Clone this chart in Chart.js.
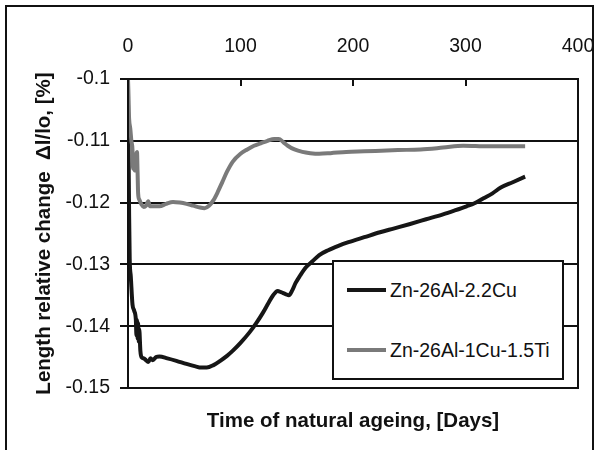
<!DOCTYPE html>
<html>
<head>
<meta charset="utf-8">
<script src="https://cdn.jsdelivr.net/npm/chart.js@4"></script>
<style>
  body { margin: 0; background: #fff; }
  #wrap { position: relative; width: 596px; height: 450px; overflow: hidden; font-family: "Liberation Sans", Arial, sans-serif; }
  #frame { position: absolute; left: 5px; top: 5px; width: 589px; height: 470px; border: 2px solid #111; box-sizing: border-box; }
  #legend { position: absolute; left: 332px; top: 260px; width: 232px; height: 120px; border: 2px solid #111; box-sizing: border-box; background: #fff; }
  .item { position: absolute; left: 13px; height: 24px; }
  .swatch { position: absolute; left: 0; top: 10px; width: 39px; height: 4px; }
  .label { position: absolute; left: 43px; top: 0; font-size: 19.5px; line-height: 24px; white-space: nowrap; color: #111; }
</style>
</head>
<body>
<div id="wrap">
  <canvas id="myChart" width="596" height="450"></canvas>
  <div id="frame"></div>
  <div id="legend"></div>
</div>
<script>
// series names
const seriesNames = ['Zn-26Al-2.2Cu', 'Zn-26Al-1Cu-1.5Ti'];
const seriesColors = ['#161616', '#7a7a7a'];

// Zn-26Al-2.2Cu
const daysCu = [0, 0.5, 1, 1.5, 2.5, 4, 5.5, 7, 7.5, 8, 8.5, 9, 9.5, 10, 11, 12, 14, 16, 18, 20, 22, 25, 28, 35, 43, 52, 60, 65, 70, 76, 82, 88, 93, 100, 108, 114, 120, 125, 129, 133, 136, 140, 143, 146, 149, 153, 158, 164, 170, 178, 187, 196, 210, 224, 236, 250, 265, 280, 290, 301, 308, 316, 324, 331, 342, 353];
const valuesCu = [-0.100, -0.112, -0.122, -0.129, -0.132, -0.1365, -0.1375, -0.139, -0.1415, -0.139, -0.142, -0.1395, -0.1425, -0.1405, -0.144, -0.145, -0.1452, -0.1455, -0.1458, -0.1452, -0.1455, -0.145, -0.1449, -0.1452, -0.1456, -0.1461, -0.1465, -0.1467, -0.1467, -0.1463, -0.1456, -0.1448, -0.144, -0.1427, -0.141, -0.1395, -0.1378, -0.1362, -0.135, -0.1343, -0.1345, -0.1348, -0.135, -0.1342, -0.133, -0.1318, -0.1305, -0.1295, -0.1285, -0.1277, -0.127, -0.1264, -0.1256, -0.1248, -0.1242, -0.1235, -0.1227, -0.1219, -0.1213, -0.1206, -0.1201, -0.1193, -0.1185, -0.1176, -0.1167, -0.1158];

// Zn-26Al-1Cu-1.5Ti
const daysTi = [0, 0.5, 1, 2, 3, 4, 4.5, 5, 6, 7, 8, 8.5, 9, 10, 12, 14, 16, 18, 19.5, 22, 25, 28, 34, 40, 46, 52, 58, 64, 68, 72, 76, 80, 84, 88, 93, 100, 106, 112, 118, 124, 130, 134, 138, 142, 148, 155, 162, 170, 180, 194, 210, 225, 240, 260, 280, 298, 320, 340, 353];
const valuesTi = [-0.100, -0.104, -0.1065, -0.108, -0.110, -0.1115, -0.1145, -0.1125, -0.1148, -0.1125, -0.1118, -0.115, -0.1185, -0.1195, -0.1203, -0.1207, -0.1205, -0.1198, -0.1206, -0.1206, -0.1206, -0.1206, -0.1202, -0.1199, -0.12, -0.1202, -0.1205, -0.1208, -0.1209, -0.1205, -0.1196, -0.1182, -0.1166, -0.115, -0.1134, -0.1121, -0.1114, -0.1108, -0.1104, -0.11, -0.1097, -0.1097, -0.1102, -0.1108, -0.1114, -0.1118, -0.112, -0.1121, -0.112, -0.1118, -0.1117, -0.1116, -0.1115, -0.1114, -0.1111, -0.1108, -0.1109, -0.1109, -0.1109];

// axes
const xTicks = [0, 100, 200, 300, 400];
const yTicks = [-0.15, -0.14, -0.13, -0.12, -0.11, -0.1];

const FONT = '"Liberation Sans", Arial, sans-serif';

function toPoints(xs, ys) {
    return xs.map((x, k) => ({ x: x, y: ys[k] }));
}

// box around the plot area plus the small inward ticks of the top axis
const plotFrame = {
    id: 'plotFrame',
    afterDatasetsDraw(chart) {
        const { ctx, chartArea: a, scales } = chart;
        ctx.save();
        ctx.strokeStyle = '#111';
        ctx.lineWidth = 2;
        ctx.strokeRect(a.left, a.top, a.right - a.left, a.bottom - a.top);
        ctx.beginPath();
        xTicks.slice(1, -1).forEach(v => {
            const px = Math.round(scales.x.getPixelForValue(v));
            ctx.moveTo(px, a.top);
            ctx.lineTo(px, a.top + 7);
        });
        ctx.stroke();
        ctx.restore();
    }
};

new Chart(document.getElementById('myChart'), {
    type: 'scatter',
    data: {
        datasets: [
            {
                label: seriesNames[0],
                data: toPoints(daysCu, valuesCu),
                borderColor: seriesColors[0],
                order: 1
            },
            {
                label: seriesNames[1],
                data: toPoints(daysTi, valuesTi),
                borderColor: seriesColors[1],
                order: 0
            }
        ]
    },
    options: {
        responsive: false,
        animation: false,
        layout: { padding: { top: 0, left: 0, right: 18, bottom: 0 } },
        elements: {
            line: { borderWidth: 4, cubicInterpolationMode: 'monotone', borderCapStyle: 'butt' },
            point: { radius: 0, hoverRadius: 0 }
        },
        datasets: { scatter: { showLine: true, pointRadius: 0 } },
        scales: {
            x: {
                type: 'linear',
                position: 'top',
                min: 0,
                max: 400,
                afterBuildTicks: s => { s.ticks = xTicks.map(v => ({ value: v })); },
                afterFit: s => { s.height = 79; s.paddingLeft = 0; s.paddingRight = 0; },
                grid: { display: true, drawOnChartArea: false, drawTicks: false },
                border: { display: true, color: '#111', width: 2 },
                ticks: { padding: 21, color: '#111', font: { family: FONT, size: 19.5 }, maxRotation: 0 }
            },
            x2: {
                type: 'linear',
                position: 'bottom',
                min: 0,
                max: 400,
                afterFit: s => { s.height = 62; s.paddingLeft = 0; s.paddingRight = 0; },
                grid: { display: false },
                border: { display: false },
                ticks: { display: false },
                title: {
                    display: true,
                    text: 'Time of natural ageing, [Days]',
                    color: '#111',
                    font: { family: FONT, size: 20.5, weight: 'bold' },
                    padding: { top: 0, bottom: 16 }
                }
            },
            y: {
                type: 'linear',
                min: -0.15,
                max: -0.1,
                afterBuildTicks: s => { s.ticks = yTicks.map(v => ({ value: v })); },
                afterFit: s => { s.width = 128; },
                grid: { color: '#111', lineWidth: 2, tickLength: 8, drawTicks: true },
                border: { display: true, color: '#111', width: 2 },
                ticks: {
                    padding: 10,
                    color: '#111',
                    font: { family: FONT, size: 19.5 },
                    callback: v => String(+v.toFixed(2))
                },
                title: {
                    display: true,
                    text: 'Length relative change  \u0394l/lo, [%]',
                    color: '#111',
                    font: { family: FONT, size: 20.5, weight: 'bold' },
                    padding: { top: 32, bottom: 0 }
                }
            }
        },
        plugins: {
            legend: { display: false },
            tooltip: { enabled: false }
        }
    },
    plugins: [plotFrame]
});

// legend box drawn as html on top of the chart
const legendBox = document.getElementById('legend');
seriesNames.forEach((name, k) => {
    const item = document.createElement('div');
    item.className = 'item';
    item.style.top = (k === 0 ? 16 : 76) + 'px';
    item.innerHTML = '<div class="swatch" style="background:' + seriesColors[k] + '"></div><div class="label">' + name + '</div>';
    legendBox.appendChild(item);
});
</script>
</body>
</html>
